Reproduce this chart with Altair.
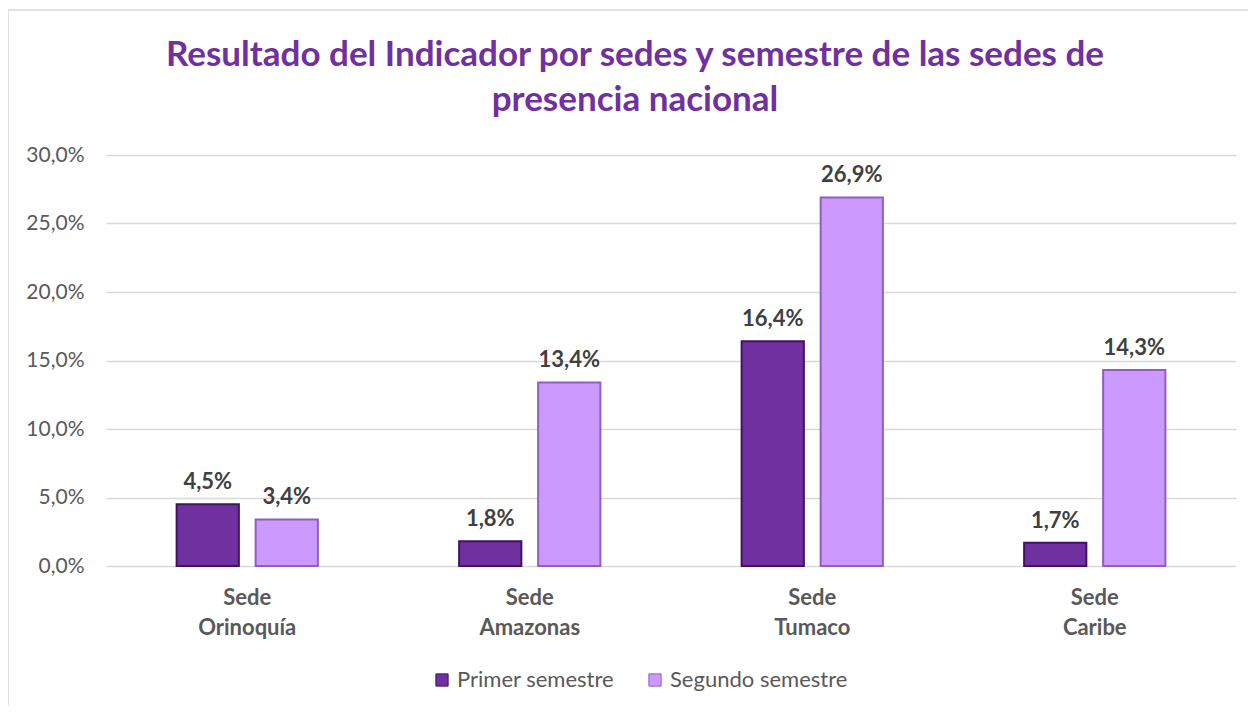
import altair as alt
import pandas as pd

sedes = ["Sede Orinoquía", "Sede Amazonas", "Sede Tumaco", "Sede Caribe"]
series = ["Primer semestre", "Segundo semestre"]
primer = [4.5, 1.8, 16.4, 1.7]
segundo = [3.4, 13.4, 26.9, 14.3]
y_ticks = [0, 5, 10, 15, 20, 25, 30]
colors = ["#7030A0", "#CC99FF"]
strokes = ["#3F1460", "#8E5FC0"]

rows = []
for i, s in enumerate(sedes):
    rows.append({"sede": s, "serie": series[0], "valor": primer[i]})
    rows.append({"sede": s, "serie": series[1], "valor": segundo[i]})
df = pd.DataFrame(rows)

FONT = "Lato"
W, H = 1130, 411

x = alt.X("sede:N", sort=sedes, title=None,
          scale=alt.Scale(paddingInner=0.5, paddingOuter=0.25),
          axis=alt.Axis(labelExpr="split(datum.label, ' ')", labelFontWeight="bold",
                        labelFontSize=22, labelColor="#595959", labelLineHeight=30,
                        labelPadding=21, labelFont=FONT, ticks=False, domain=False,
                        labelAngle=0))
xoff = alt.XOffset("serie:N", sort=series,
                   scale=alt.Scale(paddingInner=0.2125, paddingOuter=0))
y = alt.Y("valor:Q", title=None,
          scale=alt.Scale(domain=[0, 30], nice=False),
          axis=alt.Axis(values=y_ticks,
                        labelExpr="replace(format(datum.value, '.1f'), '.', ',') + '%'",
                        labelFontSize=21, labelColor="#595959", labelFont=FONT,
                        labelPadding=22, ticks=False, domain=False,
                        gridColor="#D9D9D9", gridWidth=1.5))
color = alt.Color("serie:N", sort=series,
                  scale=alt.Scale(domain=series, range=colors),
                  legend=alt.Legend(title=None, orient="none", direction="horizontal",
                                    legendX=325, legendY=514, symbolType="square",
                                    symbolSize=150, symbolStrokeColor="#3F1460",
                                    symbolStrokeWidth=1, labelFontSize=22,
                                    labelColor="#595959", labelFont=FONT,
                                    labelLimit=400,
                                    columnPadding=29, labelOffset=4))

base = alt.Chart(df)

bars = base.mark_bar(strokeWidth=2).encode(
    x=x, xOffset=xoff, y=y, color=color,
    stroke=alt.Stroke("serie:N", scale=alt.Scale(domain=series, range=strokes), legend=None),
)

labels = base.mark_text(baseline="bottom", dy=-10, fontSize=22, fontWeight="bold",
                        color="#404040", font=FONT).encode(
    x=x, xOffset=xoff, y=y,
    text=alt.Text("lbl:N"),
).transform_calculate(lbl="replace(format(datum.valor, '.1f'), '.', ',') + '%'")

border = alt.Chart(pd.DataFrame({"k": [0]})).mark_rect(
    fill=None, stroke="#D9D9D9", strokeWidth=1.5).encode(
    x=alt.value(-98), x2=alt.value(W + 30),
    y=alt.value(-145), y2=alt.value(H + 160))

chart = alt.layer(border, bars, labels).properties(
    width=W, height=H,
    autosize=alt.AutoSizeParams(type="none"),
    padding={"left": 98, "top": 147, "right": 12, "bottom": 139},
    title=alt.Title(["Resultado del Indicador por sedes y semestre de las sedes de",
                     "presencia nacional"],
                    fontSize=35, fontWeight="bold", color="#7030A0", font=FONT,
                    lineHeight=45, anchor="middle", dx=-36, offset=-109),
).configure_view(stroke=None)

chart.save("out.html", embed_options={"renderer": "svg", "actions": False})
